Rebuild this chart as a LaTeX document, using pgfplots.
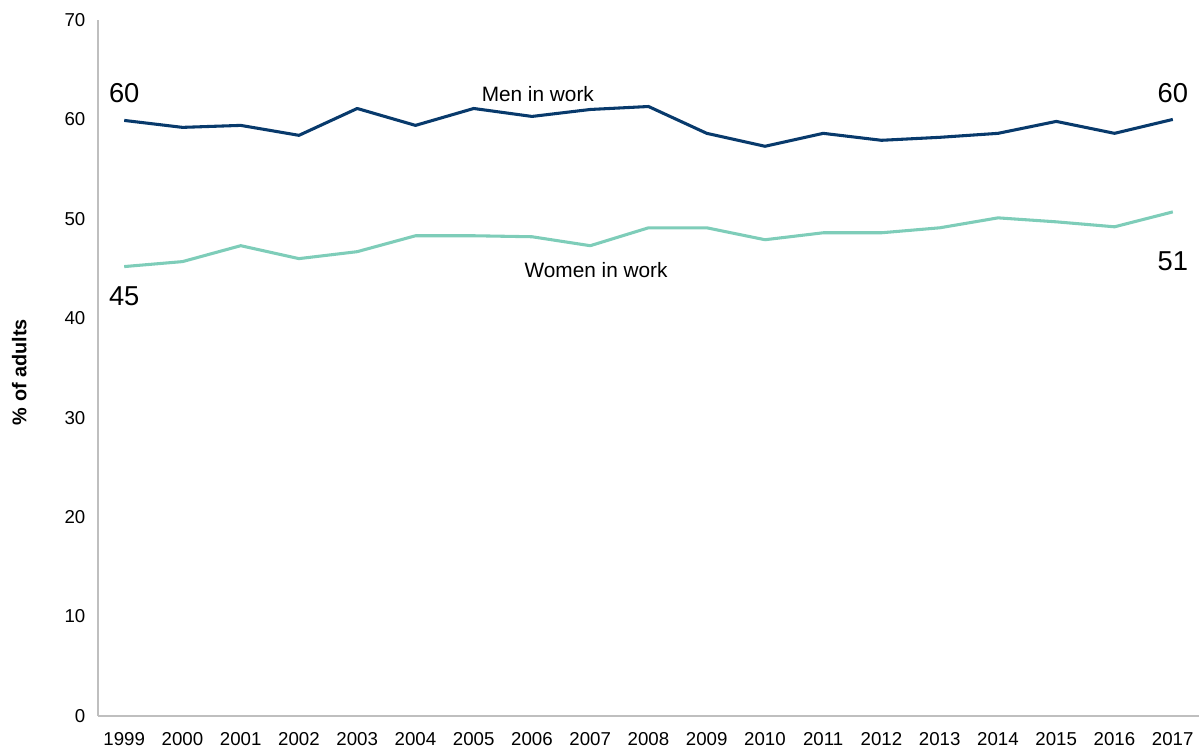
\documentclass[border=0pt]{standalone}
\usepackage{pgfplots}
\pgfplotsset{compat=1.18}
\usepackage{fontspec}
\setmainfont{Liberation Sans}
\usetikzlibrary{calc}
\definecolor{men}{HTML}{083A6C}
\definecolor{women}{HTML}{7ECDB9}
\definecolor{axgray}{HTML}{BFBFBF}
\begin{document}
\begin{tikzpicture}[x=1pt,y=1pt]
\begin{axis}[
  name=ax,
  scale only axis,
  width=825.75pt, height=522pt,
  xmin=1998.55, xmax=2017.45,
  ymin=0, ymax=70,
  axis x line=bottom, axis y line=left,
  axis line style={axgray, line width=1pt, -},
  xtick={1999,...,2017},
  ytick={0,10,...,70},
  major tick length=0pt,
  xticklabel style={font=\fontsize{14}{16}\selectfont, yshift=-8.5pt},
  yticklabel style={font=\fontsize{14}{16}\selectfont, xshift=-6pt},
  /pgf/number format/assume math mode=true,
  /pgf/number format/1000 sep={},
  ylabel={\bfseries \% of adults},
  ylabel style={font=\fontsize{14.9}{16}\selectfont, at={(rel axis cs:0,0.494)}, anchor=south, yshift=50pt},
  clip=false,
]
\addplot[men, line width=2.3pt, line join=round] coordinates {
(1999,59.9) (2000,59.2) (2001,59.4) (2002,58.4) (2003,61.1) (2004,59.4)
(2005,61.1) (2006,60.3) (2007,61.0) (2008,61.3) (2009,58.6) (2010,57.3)
(2011,58.6) (2012,57.9) (2013,58.2) (2014,58.6) (2015,59.8) (2016,58.6)
(2017,60.0)};
\addplot[women, line width=2.3pt, line join=round] coordinates {
(1999,45.2) (2000,45.7) (2001,47.3) (2002,46.0) (2003,46.7) (2004,48.3)
(2005,48.3) (2006,48.2) (2007,47.3) (2008,49.1) (2009,49.1) (2010,47.9)
(2011,48.6) (2012,48.6) (2013,49.1) (2014,50.1) (2015,49.7) (2016,49.2)
(2017,50.7)};
\node[font=\fontsize{20.5}{22}\selectfont] at (axis cs:1999,62.6) {60};
\node[font=\fontsize{20.5}{22}\selectfont] at (axis cs:1999,42.2) {45};
\node[font=\fontsize{20.5}{22}\selectfont] at (axis cs:2017,62.6) {60};
\node[font=\fontsize{20.5}{22}\selectfont] at (axis cs:2017,45.7) {51};
\node[font=\fontsize{15.6}{17}\selectfont] at (axis cs:2006.1,62.6) {Men in work};
\node[font=\fontsize{15.6}{17}\selectfont] at (axis cs:2007.1,44.8) {Women in work};
\end{axis}
\pgfresetboundingbox
\path ($(ax.south west)+(-73.5pt,-27.75pt)$) rectangle ($(ax.north east)+(0pt,15pt)$);
\end{tikzpicture}
\end{document}
